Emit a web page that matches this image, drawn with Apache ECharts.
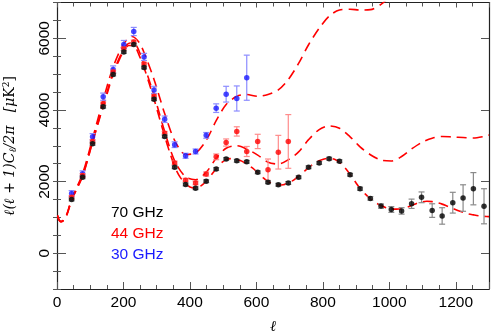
<!DOCTYPE html>
<html>
<head>
<meta charset="utf-8">
<script src="https://cdn.jsdelivr.net/npm/echarts@6/dist/echarts.min.js"></script>
<style>
html, body { margin: 0; padding: 0; background: #fff; }
#chart { width: 491px; height: 332px; }
</style>
</head>
<body>
<div id="chart"></div>
<script>
// binned spectra, multipole l and D_l in uK^2
var ell70 = [44, 77, 107, 139, 169, 201, 231, 262, 292, 324, 354, 387, 417, 449, 479, 509, 541, 571, 604, 635, 666, 696, 727, 757, 789, 819, 850, 882, 912, 943, 975, 1006, 1037, 1067, 1097, 1129, 1159, 1191, 1222, 1253, 1285];
var d70 = [1500, 2120, 3055, 4090, 4990, 5620, 5825, 5185, 4300, 3260, 2400, 1920, 1815, 2010, 2350, 2630, 2580, 2550, 2260, 1980, 1910, 1960, 2120, 2400, 2520, 2640, 2570, 2190, 1800, 1530, 1315, 1220, 1180, 1380, 1560, 1190, 1040, 1410, 1540, 1800, 1310];
var err70 = [40, 40, 40, 40, 40, 40, 40, 40, 40, 40, 40, 40, 40, 40, 40, 40, 40, 40, 40, 40, 40, 40, 40, 40, 40, 40, 40, 40, 45, 50, 60, 80, 90, 130, 150, 190, 230, 290, 370, 450, 490];

var ell44 = [44, 77, 107, 139, 169, 201, 231, 262, 292, 324, 354, 387, 417, 449, 479, 509, 541, 571, 604, 635, 666, 696];
var d44 = [1560, 2170, 3120, 4170, 5060, 5700, 5900, 5280, 4380, 3350, 2520, 2040, 1960, 2210, 2690, 3090, 3400, 2840, 3120, 2330, 2820, 3120];
var err44 = [50, 50, 50, 50, 50, 50, 50, 50, 50, 50, 50, 50, 50, 60, 80, 100, 130, 140, 200, 300, 470, 750];

var ell30 = [44, 77, 107, 139, 169, 201, 231, 262, 292, 324, 354, 387, 417, 449, 479, 509, 541, 571];
var d30 = [1667, 2220, 3250, 4370, 5130, 5830, 6190, 5480, 4560, 3740, 3030, 2720, 2840, 3290, 4050, 4440, 4320, 4900];
var err30 = [80, 80, 90, 100, 100, 110, 115, 100, 100, 90, 80, 70, 70, 80, 120, 220, 350, 630];

// model curves, [l, D_l]
var model70 = [[2,1050],[6,930],[12,880],[20,920],[30,1080],[44,1480],[60,1800],[77,2150],[92,2600],[107,3100],[123,3600],[139,4100],[154,4550],[169,5000],[185,5350],[201,5650],[216,5800],[231,5800],[246,5550],[262,5180],[277,4750],[292,4300],[308,3780],[324,3270],[339,2820],[354,2420],[370,2130],[387,1940],[400,1850],[417,1820],[433,1880],[449,2010],[464,2180],[479,2360],[494,2520],[509,2610],[525,2640],[541,2620],[556,2570],[571,2490],[588,2380],[604,2250],[620,2110],[635,2000],[650,1930],[666,1900],[681,1910],[696,1960],[712,2040],[727,2150],[742,2270],[757,2390],[773,2500],[789,2580],[804,2630],[819,2650],[835,2620],[850,2540],[866,2390],[882,2200],[897,2000],[912,1810],[928,1650],[943,1520],[959,1410],[975,1330],[990,1270],[1006,1240],[1021,1230],[1037,1240],[1052,1280],[1067,1330],[1082,1390],[1097,1430],[1113,1450],[1129,1440],[1144,1410],[1159,1370],[1175,1310],[1191,1250],[1206,1190],[1222,1140],[1237,1100],[1253,1070],[1268,1045],[1285,1030],[1300,1020]];
var model44 = [[2,1050],[6,930],[12,880],[20,920],[30,1080],[44,1490],[77,2160],[107,3120],[139,4130],[169,5040],[201,5700],[220,5870],[240,5780],[262,5250],[292,4410],[324,3400],[354,2580],[387,2130],[417,2050],[449,2260],[479,2650],[509,2930],[541,3000],[571,2910],[604,2740],[635,2540],[666,2490],[696,2610],[727,2830],[757,3170],[789,3450],[819,3555],[850,3490],[882,3250],[912,2970],[943,2750],[975,2600],[1006,2575],[1037,2700],[1067,2910],[1097,3090],[1129,3210],[1159,3260],[1191,3245],[1222,3230],[1253,3215],[1285,3260],[1300,3300]];
var model30 = [[2,1050],[6,930],[12,880],[20,920],[30,1100],[44,1520],[77,2220],[107,3200],[139,4280],[169,5200],[201,5850],[225,6050],[246,5900],[262,5600],[292,4850],[324,3900],[354,3150],[387,2760],[417,2800],[449,3150],[479,3700],[509,4150],[541,4380],[571,4430],[604,4380],[635,4430],[666,4560],[696,4850],[727,5300],[757,5820],[789,6280],[819,6620],[850,6790],[882,6810],[912,6790],[943,6800],[975,6950],[1006,7200],[1037,7500],[1067,7900]];

var yMajor = [0, 2000, 4000, 6000];
var legendItems = ['70 GHz', '44 GHz', '30 GHz'];
var legendColors = ['#000000', '#ff0000', '#1a1aff'];

var chart = echarts.init(document.getElementById('chart'));

function pairs(xs, ys) {
    return xs.map(function (x, i) { return [x, ys[i]]; });
}

function errBars(xs, ys, es, color, z) {
    return {
        type: 'custom',
        z: z,
        silent: true,
        data: xs.map(function (x, i) { return [x, ys[i] - es[i], ys[i] + es[i]]; }),
        encode: { x: 0, y: [1, 2] },
        renderItem: function (params, api) {
            var lo = api.coord([api.value(0), api.value(1)]);
            var hi = api.coord([api.value(0), api.value(2)]);
            var w = 3;
            var st = { stroke: color, lineWidth: 1.2 };
            return {
                type: 'group',
                children: [
                    { type: 'line', shape: { x1: lo[0], y1: lo[1], x2: hi[0], y2: hi[1] }, style: st },
                    { type: 'line', shape: { x1: lo[0] - w, y1: lo[1], x2: lo[0] + w, y2: lo[1] }, style: st },
                    { type: 'line', shape: { x1: hi[0] - w, y1: hi[1], x2: hi[0] + w, y2: hi[1] }, style: st }
                ]
            };
        }
    };
}

function curve(data) {
    return {
        type: 'line',
        data: data,
        smooth: 0.3,
        symbol: 'none',
        z: 2,
        lineStyle: { color: '#ff0000', width: 1.6, type: [10, 6] }
    };
}

function dots(xs, ys, color, z) {
    return {
        type: 'scatter',
        data: pairs(xs, ys),
        symbol: 'circle',
        symbolSize: 5.5,
        z: z,
        itemStyle: { color: color }
    };
}

var axisLine = { show: true, onZero: false, lineStyle: { color: '#222', width: 1.2 } };
var tickStyle = { color: '#555', width: 1 };
var plain = function (v) { return String(v); };

var option = {
    animation: false,
    backgroundColor: '#fff',
    grid: { left: 57, right: 2, top: 2.5, bottom: 43, outerBoundsMode: 'none' },
    xAxis: [{
        type: 'value', position: 'bottom', min: 0, max: 1300, interval: 200,
        axisLine: axisLine,
        axisTick: { inside: true, length: 7, lineStyle: tickStyle },
        minorTick: { show: true, splitNumber: 4, length: 4, lineStyle: tickStyle },
        splitLine: { show: false },
        axisLabel: { color: '#000', fontSize: 15.5, fontFamily: 'Liberation Sans, Arial', margin: 6, formatter: plain },
        name: 'ℓ', nameLocation: 'middle', nameGap: 31,
        nameTextStyle: { fontFamily: 'DejaVu Serif', fontStyle: 'italic', fontSize: 15, color: '#000' }
    }, {
        type: 'value', position: 'top', min: 0, max: 1300, interval: 200,
        axisLine: axisLine,
        axisTick: { inside: true, length: 5, lineStyle: tickStyle },
        minorTick: { show: true, splitNumber: 4, length: 4, lineStyle: tickStyle },
        splitLine: { show: false },
        axisLabel: { show: false }
    }],
    yAxis: [{
        type: 'value', position: 'left', min: -1000, max: 7000, interval: 500,
        axisLine: axisLine,
        axisTick: { inside: true, length: 9, customValues: yMajor, lineStyle: tickStyle },
        splitLine: { show: false },
        axisLabel: {
            customValues: yMajor, rotate: 90, margin: 4, color: '#000',
            fontSize: 15.5, fontFamily: 'Liberation Sans, Arial', formatter: plain
        },
        name: '{m|ℓ(ℓ + 1)C}{s|ℓ}{m|/2π}    {m|[μ}{r|K}{p|2}{r|]}',
        nameLocation: 'middle', nameGap: 38, nameRotate: 90,
        nameTextStyle: {
            rich: {
                m: { fontFamily: 'DejaVu Serif', fontStyle: 'italic', fontSize: 14, color: '#000' },
                s: { fontFamily: 'DejaVu Serif', fontStyle: 'italic', fontSize: 10, color: '#000', padding: [6, 0, 0, 0] },
                r: { fontFamily: 'DejaVu Serif', fontSize: 14, color: '#000' },
                p: { fontFamily: 'DejaVu Serif', fontSize: 9, color: '#000', padding: [0, 0, 8, 0] }
            }
        }
    }, {
        type: 'value', position: 'left', min: -1000, max: 7000, interval: 500,
        axisLine: { show: false },
        axisTick: { inside: true, length: 4, lineStyle: tickStyle },
        splitLine: { show: false },
        axisLabel: { show: false }
    }, {
        type: 'value', position: 'right', min: -1000, max: 7000, interval: 500,
        axisLine: axisLine,
        axisTick: { inside: true, length: 8, customValues: yMajor, lineStyle: tickStyle },
        splitLine: { show: false },
        axisLabel: { show: false }
    }, {
        type: 'value', position: 'right', min: -1000, max: 7000, interval: 500,
        axisLine: { show: false },
        axisTick: { inside: true, length: 4, lineStyle: tickStyle },
        splitLine: { show: false },
        axisLabel: { show: false }
    }],
    graphic: legendItems.map(function (t, i) {
        return {
            type: 'text', left: 111, top: 205 + i * 20.8,
            style: { text: t, fill: legendColors[i], fontSize: 15.5, fontFamily: 'Liberation Sans, Arial' }
        };
    }),
    series: [
        curve(model30),
        curve(model44),
        curve(model70),
        errBars(ell30, d30, err30, '#8c8cff', 3),
        dots(ell30, d30, '#1a1aff', 4),
        errBars(ell44, d44, err44, '#ff8c8c', 5),
        dots(ell44, d44, '#ff0000', 6),
        errBars(ell70, d70, err70, '#8a8a8a', 7),
        dots(ell70, d70, '#000000', 8)
    ]
};

chart.setOption(option);
</script>
</body>
</html>
